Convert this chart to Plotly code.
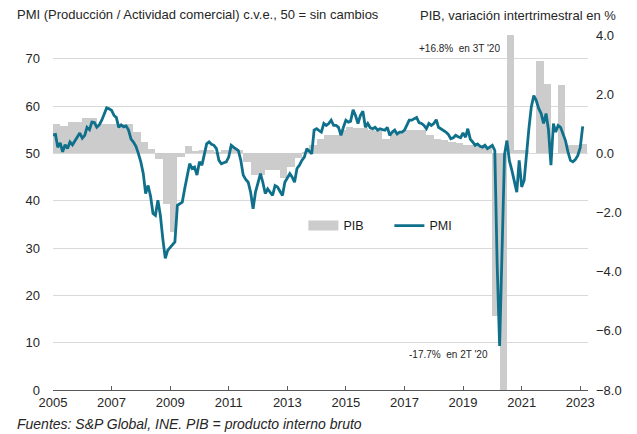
import pandas as pd
import plotly.graph_objects as go

# ---- Data ----
# PIB, variación intertrimestral (%), 2005T1 .. 2023T1
pib = [
    1.0, 0.93, 1.05, 1.05,      # 2005
    1.2, 1.2, 1.0, 1.0,         # 2006
    1.0, 1.0, 1.0, 0.72,        # 2007
    0.4, 0.15, -0.2, -1.7,      # 2008
    -2.65, -0.12, 0.26, 0.08,   # 2009
    0.1, 0.1, 0.05, 0.1,        # 2010
    0.2, 0.1, -0.28, -0.73,     # 2011
    -0.73, -0.56, -0.56, -0.82, # 2012
    -0.45, -0.16, 0.05, 0.28,   # 2013
    0.5, 0.62, 0.62, 0.79,      # 2014
    0.9, 0.85, 0.85, 0.8,       # 2015
    0.75, 0.5, 0.73, 0.73,      # 2016
    0.78, 0.78, 0.78, 0.62,     # 2017
    0.5, 0.45, 0.39, 0.35,      # 2018
    0.27, 0.27, 0.22, 0.22,     # 2019
    -5.5, -17.7, 16.8, 0.1,     # 2020
    0.1, 0.0, 3.13, 2.36,       # 2021
    0.0, 2.3, 0.28, 0.28,       # 2022
    0.3,                        # 2023
]

# PMI compuesto (Producción / Actividad comercial), mensual, ene-2005 .. feb-2023
pmi = [
    53.9, 54.0, 51.3, 52.2, 50.3, 51.8, 51.0, 52.4, 51.8, 52.7, 53.4, 54.3,   # 2005
    53.2, 53.8, 55.5, 55.0, 56.6, 56.5, 55.5, 56.0, 57.0, 58.2, 59.6, 59.4,   # 2006
    59.1, 58.0, 57.6, 55.5, 56.0, 55.6, 55.8, 54.9, 53.0, 52.4, 51.5, 50.0,   # 2007
    48.2, 45.7, 41.5, 43.2, 41.0, 37.3, 36.9, 40.1, 36.9, 32.0, 27.8, 29.5,   # 2008
    30.2, 30.8, 31.3, 39.0, 39.3, 39.7, 42.5, 45.4, 47.8, 46.8, 47.1, 45.4,   # 2009
    48.2, 47.5, 50.0, 52.0, 52.4, 51.9, 51.7, 51.0, 48.5, 47.8, 48.0, 48.2,   # 2010
    49.2, 51.7, 51.3, 51.0, 50.6, 48.5, 45.4, 44.5, 43.9, 41.8, 38.3, 41.8,   # 2011
    44.0, 45.7, 43.9, 41.5, 42.5, 41.8, 41.1, 43.2, 42.9, 42.0, 41.1, 43.9,   # 2012
    44.8, 45.7, 45.0, 43.9, 46.8, 47.5, 48.5, 49.2, 51.0, 50.5, 49.9, 54.9,   # 2013
    55.2, 54.8, 54.5, 56.3, 55.9, 56.3, 57.0, 55.9, 55.9, 55.5, 53.8, 55.5,   # 2014
    57.0, 56.6, 56.8, 59.2, 58.0, 56.3, 58.0, 58.9, 55.5, 56.3, 55.4, 55.2,   # 2015
    55.5, 54.9, 55.2, 55.0, 54.9, 55.5, 53.8, 54.5, 54.9, 54.1, 54.5, 54.5,   # 2016
    54.9, 56.0, 57.0, 57.0, 57.3, 57.6, 56.5, 56.3, 55.9, 55.2, 56.3, 55.9,   # 2017
    56.3, 57.1, 55.5, 55.2, 54.9, 54.5, 54.0, 53.1, 53.3, 53.8, 53.5, 53.3,   # 2018
    54.3, 53.4, 55.2, 53.0, 52.4, 51.7, 52.0, 51.5, 51.3, 51.7, 51.0, 51.3,   # 2019
    51.7, 50.6, 26.7, 9.3, 29.2, 49.7, 52.7, 48.4, 46.4, 44.2, 41.8, 48.5,    # 2020
    42.9, 44.3, 50.1, 55.2, 59.8, 62.2, 61.2, 59.5, 58.4, 56.3, 58.4, 55.0,   # 2021
    47.5, 56.3, 54.5, 55.9, 55.5, 54.1, 52.7, 50.3, 48.5, 48.2, 48.7, 49.5,   # 2022
    51.2, 55.7,                                                               # 2023
]

year_ticks = [2005, 2007, 2009, 2011, 2013, 2015, 2017, 2019, 2021, 2023]
left_ticks = [0, 10, 20, 30, 40, 50, 60, 70]
right_ticks = [-8, -6, -4, -2, 0, 2, 4]

# ---- Build ----
q_start = pd.date_range("2005-01-01", periods=len(pib), freq="QS")
q_end = q_start + pd.offsets.QuarterBegin(startingMonth=1)
q_width = [(e - s).total_seconds() * 1000 for s, e in zip(q_start, q_end)]
months = pd.date_range("2005-01-01", periods=len(pmi), freq="MS")

GRAY = "#cccccc"
TEAL = "#0f708c"
TXT = "#262626"
FONT = "Liberation Sans, Arial, sans-serif"

fig = go.Figure()
fig.add_trace(go.Bar(
    x=q_start, y=pib, width=q_width, offset=0,
    marker=dict(color=GRAY, line=dict(width=0)),
    yaxis="y", showlegend=False, name="PIB",
))
fig.add_trace(go.Scatter(
    x=[None], y=[None], mode="lines", name="PIB",
    line=dict(color=GRAY, width=10), yaxis="y",
))
fig.add_trace(go.Scatter(
    x=months, y=pmi, mode="lines", name="PMI",
    line=dict(color=TEAL, width=2.8), yaxis="y2",
))

# page body has an 8px margin: figure is shrunk so the plot lands where the reference has it
fig.update_layout(
    width=629, height=426,
    margin=dict(l=45, r=49, t=27, b=44),
    paper_bgcolor="white", plot_bgcolor="white",
    font=dict(family=FONT, size=13, color=TXT),
    bargap=0,
    showlegend=True,
    legend=dict(
        orientation="h", x=0.468, y=0.462, xanchor="left", yanchor="middle",
        bgcolor="rgba(0,0,0,0)", font=dict(size=12.5, color="#1a1a1a"),
        itemwidth=30, entrywidth=41, traceorder="normal",
    ),
    xaxis=dict(
        type="date",
        range=["2005-01-01", "2023-04-08"],
        tickvals=[f"{y}-01-01" for y in year_ticks],
        ticktext=[str(y) for y in year_ticks],
        showgrid=False, zeroline=False,
        showline=True, linecolor="#595959", linewidth=1,
        ticks="inside", ticklen=4, tickcolor="#595959",
        tickfont=dict(size=13, color=TXT),
    ),
    yaxis=dict(
        side="right", range=[-8, 4],
        tickvals=right_ticks, tickformat=".1f",
        showgrid=False, zeroline=False, showline=False, ticks="",
        tickfont=dict(size=13, color=TXT),
        ticklabelstandoff=7,
    ),
    yaxis2=dict(
        overlaying="y", side="left", range=[0, 75],
        tickvals=left_ticks,
        showgrid=True, gridcolor="#d9d9d9", gridwidth=1,
        zeroline=False, showline=False, ticks="",
        tickfont=dict(size=13, color=TXT),
        ticklabelstandoff=12,
    ),
    annotations=[
        dict(text="PMI (Producción / Actividad comercial) c.v.e., 50 = sin cambios",
             xref="paper", yref="paper", x=-0.071, y=1.0, yshift=21,
             xanchor="left", yanchor="middle", showarrow=False,
             font=dict(size=13, color=TXT)),
        dict(text="PIB, variación intertrimestral en %",
             xref="paper", yref="paper", x=1.056, y=1.0, yshift=20,
             xanchor="right", yanchor="middle", showarrow=False,
             font=dict(size=13, color=TXT)),
        dict(text="+16.8%  en 3T '20",
             xref="paper", yref="paper", x=0.8393, y=0.963,
             xanchor="right", yanchor="middle", showarrow=False,
             font=dict(size=10, color=TXT)),
        dict(text="-17.7%  en 2T '20",
             xref="paper", yref="paper", x=0.8168, y=0.0986,
             xanchor="right", yanchor="middle", showarrow=False,
             font=dict(size=10, color=TXT)),
        dict(text="<i>Fuentes: S&P Global, INE. PIB = producto interno bruto</i>",
             xref="paper", yref="paper", x=-0.071, y=0, yshift=-34,
             xanchor="left", yanchor="middle", showarrow=False,
             font=dict(size=14, color=TXT)),
    ],
)

fig.write_html("out.html")
